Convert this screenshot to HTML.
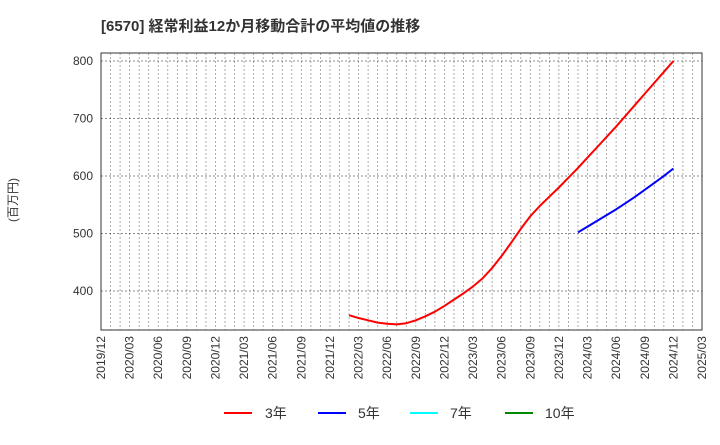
<!DOCTYPE html>
<html><head><meta charset="utf-8"><style>
body{margin:0;background:#fff;font-family:"Liberation Sans","Noto Sans CJK JP",sans-serif;}
</style></head><body>
<svg width="720" height="440" xmlns="http://www.w3.org/2000/svg" font-family="Liberation Sans, Noto Sans CJK JP, sans-serif">
<text x="101" y="31" font-size="15" font-weight="bold" fill="#333">[6570]  経常利益12か月移動合計の平均値の推移</text>
<text transform="translate(17,200) rotate(-90)" text-anchor="middle" font-size="12" fill="#333">(百万円)</text>
<g id="grid"></g>
<rect x="101" y="53" width="601" height="277" fill="none" stroke="#333" stroke-width="1"/>
<g id="yt"></g><g id="xt"></g><g id="series"></g>
<g font-size="14" fill="#333">
<line x1="224" y1="413" x2="252" y2="413" stroke="#f00" stroke-width="2"/><text x="265" y="418">3年</text>
<line x1="318" y1="413" x2="346" y2="413" stroke="#00f" stroke-width="2"/><text x="358" y="418">5年</text>
<line x1="410" y1="413" x2="438" y2="413" stroke="#0ff" stroke-width="2"/><text x="450" y="418">7年</text>
<line x1="505" y1="413" x2="533" y2="413" stroke="#080" stroke-width="2"/><text x="545" y="418">10年</text>
</g>
</svg>
<script>
const yTicks=[400,500,600,700,800];
const xLabels=["2019/12","2020/03","2020/06","2020/09","2020/12","2021/03","2021/06","2021/09","2021/12","2022/03","2022/06","2022/09","2022/12","2023/03","2023/06","2023/09","2023/12","2024/03","2024/06","2024/09","2024/12","2025/03"];
const red3=[358,353,349,345,343,342,344,349,356,364,374,385,396,408,422,440,461,484,508,530,548,564,580,597,614,632,650,668,686,705,724,743,762,781,800];
const redStart=26; // months after 2019/12 (2022/02)
const blue5=[502,512,522,532,542,553,564,576,588,600,613];
const blueStart=50; // 2024/02
const NS="http://www.w3.org/2000/svg";
const L=101,R=702,T=53,B=330;
const xM=m=>L+m*(R-L)/63;
const yV=v=>61+(800-v)*0.575;
function mk(t,a,p){const e=document.createElementNS(NS,t);for(const k in a)e.setAttribute(k,a[k]);p.appendChild(e);return e;}
const g=document.getElementById('grid');
for(let m=1;m<63;m++){const l=mk('line',{x1:xM(m),x2:xM(m),y1:T,y2:B,stroke:'#999','stroke-dasharray':'2,2','stroke-width':0.8},g);

}
const yt=document.getElementById('yt');
yTicks.forEach(v=>{const l=mk('line',{x1:L,x2:R,y1:yV(v),y2:yV(v),stroke:'#666','stroke-dasharray':'2,2','stroke-width':0.8},g);


const t=mk('text',{x:L-8,y:yV(v)+4,'text-anchor':'end','font-size':12,fill:'#333'},yt);t.textContent=v;

});
const xt=document.getElementById('xt');
xLabels.forEach((s,i)=>{const x=xM(i*3);const t=mk('text',{transform:`translate(${x+4},${B+6}) rotate(-90)`,'text-anchor':'end','font-size':12,fill:'#333'},xt);t.textContent=s;

});
const sg=document.getElementById('series');
function line(arr,start,col,name){const p=mk('polyline',{points:arr.map((v,i)=>xM(start+i)+','+yV(v)).join(' '),fill:'none',stroke:col,'stroke-width':2,'stroke-linejoin':'round'},sg);

}
line(red3,redStart,'#f00','series-3yr');
line(blue5,blueStart,'#00f','series-5yr');
</script>
</body></html>
